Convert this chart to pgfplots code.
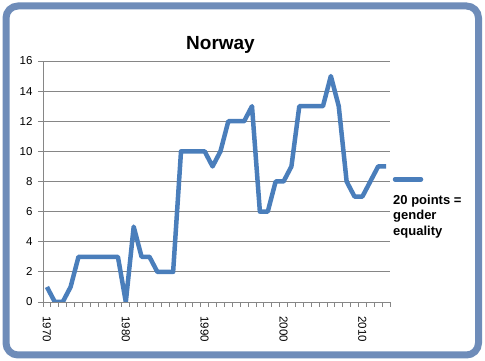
\documentclass[border=0pt]{standalone}
\usepackage{pgfplots}
\pgfplotsset{compat=1.18}
\usepackage{fontspec}
\setmainfont{Liberation Sans}
\definecolor{lineblue}{RGB}{74,126,187}
\definecolor{framecol}{RGB}{110,140,185}
\definecolor{gridgray}{RGB}{134,134,134}
\begin{document}
\begin{tikzpicture}[x=1pt,y=1pt]
\useasboundingbox (0,0) rectangle (485,361);
\fill[white] (0,0) rectangle (485,361);
\draw[framecol, line width=7pt, rounded corners=12pt] (6,6) rectangle (478.5,355);
\begin{axis}[
  at={(43pt,59pt)}, anchor=south west,
  scale only axis, width=347pt, height=241pt,
  xmin=1969.5, xmax=2013.5, ymin=0, ymax=16,
  axis lines=left, axis line style={-, gridgray, line width=0.8pt},
  ytick={0,2,...,16},
  ymajorgrids, grid style={gridgray, line width=0.8pt},
  xtick={1969.5,1970.5,...,2013.5}, xticklabels={},
  extra x ticks={1970,1980,1990,2000,2010},
  extra x tick style={major tick length=0pt, grid=none},
  tick align=outside, major tick length=5pt,
  tick style={gridgray, line width=0.8pt},
  /pgf/number format/assume math mode=true,
  /pgf/number format/1000 sep={},
  yticklabel shift=2pt,
  xticklabel shift=11pt,
  yticklabel style={font=\fontsize{11.5}{13}\selectfont},
  xticklabel style={font=\fontsize{11.5}{13}\selectfont, rotate=-90, anchor=west},
]
\addplot[lineblue, line width=4.5pt, line join=round] table {
x y
1970 1
1971 0
1972 0
1973 1
1974 3
1975 3
1976 3
1977 3
1978 3
1979 3
1980 0
1981 5
1982 3
1983 3
1984 2
1985 2
1986 2
1987 10
1988 10
1989 10
1990 10
1991 9
1992 10
1993 12
1994 12
1995 12
1996 13
1997 6
1998 6
1999 8
2000 8
2001 9
2002 13
2003 13
2004 13
2005 13
2006 15
2007 13
2008 8
2009 7
2010 7
2011 8
2012 9
2013 9
};
\end{axis}
\node[font=\fontsize{19}{22}\selectfont\bfseries, anchor=base, inner sep=0pt] at (220.5,311) {Norway};
\draw[lineblue, line width=4.5pt, line cap=round] (395,181.7) -- (421,181.7);
\node[font=\fontsize{13}{15.5}\selectfont\bfseries, anchor=base west, inner sep=0pt] at (393,156.8) {20 points =};
\node[font=\fontsize{13}{15.5}\selectfont\bfseries, anchor=base west, inner sep=0pt] at (393,141.3) {gender};
\node[font=\fontsize{13}{15.5}\selectfont\bfseries, anchor=base west, inner sep=0pt] at (393,125.8) {equality};
\end{tikzpicture}
\end{document}
